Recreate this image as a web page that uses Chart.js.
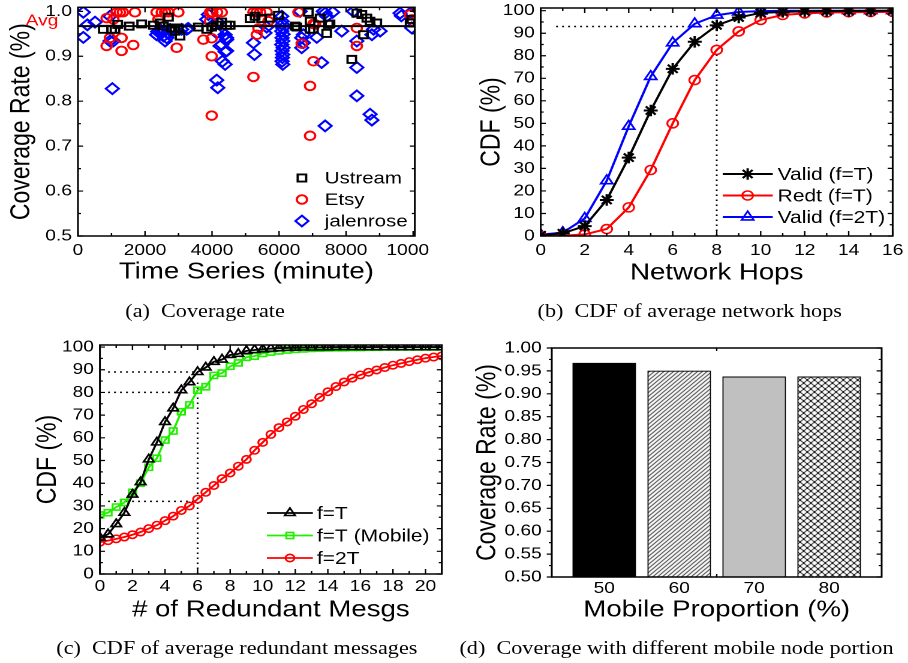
<!DOCTYPE html>
<html><head><meta charset="utf-8">
<title>Coverage and CDF charts</title>
<script src="https://cdn.jsdelivr.net/npm/chart.js@4.4.1/dist/chart.umd.min.js"></script>
<style>
html,body{margin:0;padding:0;background:#fff;}
body{width:908px;height:663px;overflow:hidden;position:relative;}
#fig{position:absolute;left:0;top:0;width:757px;height:663px;transform:scaleX(1.1995);transform-origin:0 0;}
#fig canvas{position:absolute;}
.cap{position:absolute;width:420px;text-align:center;font-family:"Liberation Serif","Times New Roman",serif;font-size:18.5px;line-height:22px;color:#000;white-space:nowrap;}
</style></head>
<body>
<div id="fig">
<canvas id="ca" width="358" height="300" style="left:0;top:0"></canvas>
<canvas id="cb" width="372" height="300" style="left:385px;top:0"></canvas>
<canvas id="cc" width="378" height="343" style="left:0;top:320px"></canvas>
<canvas id="cd" width="372" height="343" style="left:385px;top:320px"></canvas>
<div class="cap" style="left:-39px;top:300px">(a)&nbsp; Coverage rate</div>
<div class="cap" style="left:365px;top:300px">(b)&nbsp; CDF of average network hops</div>
<div class="cap" style="left:-12.5px;top:637px">(c)&nbsp; CDF of average redundant messages</div>
<div class="cap" style="left:354px;top:637px">(d)&nbsp; Coverage with different mobile node portion</div>
</div>
<script>
// ---------------- DATA ----------------
// (a) Coverage rate over time
const timeTicks = [0,2000,4000,6000,8000,10000];
const timeTickLabels = ['0','2000','4000','6000','8000','10000'];
const timeMinor = [1000,3000,5000,7000,9000];
const rateTicks = [0.5,0.6,0.7,0.8,0.9,1.0];
const rateTickLabels = ['0.5','0.6','0.7','0.8','0.9','1.0'];
const rateMinor = [0.55,0.65,0.75,0.85,0.95];
const avgCoverage = 0.967;
const avgSpan = [0,10050];
const ustreamTime = [755,1005,1105,1185,1530,1900,2250,2450,2550,2700,2800,2895,2995,3045,3590,3840,3990,4140,4290,4435,4540,5135,5285,5480,5730,5980,6480,6530,6875,6925,6925,7025,7225,7420,7470,7520,8170,8320,8470,8520,8620,8715,8915,9910,9960];
const ustreamRate = [0.96,0.96,0.96,0.971,0.967,0.972,0.969,0.974,0.967,0.987,0.963,0.956,0.963,0.945,0.965,0.96,0.965,0.969,0.976,0.969,0.969,0.984,0.989,0.984,0.985,0.991,0.967,0.965,0.998,0.978,0.96,0.96,0.985,0.951,0.971,0.972,0.893,0.996,0.993,0.948,0.985,0.978,0.974,0.974,0.982];
const etsyTime = [855,855,955,1055,1155,1250,1300,1300,1340,1650,1700,2345,2400,2500,2600,2700,2945,2995,3740,3940,3940,3990,3990,3990,4010,4150,4290,5235,5235,5335,5335,5385,5435,5630,5680,6580,6675,6925,6925,7025,7025,7075,8320,8320,9910,9960];
const etsyRate = [0.985,0.923,0.941,0.982,0.998,0.998,0.941,0.912,0.998,0.925,0.998,0.998,0.982,0.998,0.998,0.998,0.919,0.998,0.937,0.998,0.978,0.94,0.90,0.768,0.998,0.998,0.998,0.854,0.998,0.998,0.948,0.962,0.998,0.998,0.978,0.998,0.928,0.723,0.834,0.889,0.972,0.971,0.963,0.923,0.993,0.982];
const jalenTime = [160,160,280,510,955,955,1025,1055,2345,2380,2450,2500,2550,2600,2650,2700,2750,2800,3095,3245,3290,3840,3890,4140,4140,4170,4190,4240,4290,4310,4390,4390,4390,4435,4435,4435,5235,5265,5580,5630,6080,6090,6100,6110,6080,6120,6090,6110,6080,6120,6090,6110,6100,6090,6110,6630,6675,6675,6725,6725,7125,7270,7320,7375,7375,7420,7600,7870,8220,8320,8320,8320,8715,8770,8770,8820,9015,9610,9650,9910,9960];
const jalenRate = [0.998,0.942,0.97,0.976,0.989,0.934,0.828,0.934,0.948,0.955,0.96,0.952,0.945,0.934,0.941,0.95,0.96,0.955,0.96,0.96,0.962,0.982,0.993,0.952,0.847,0.83,0.975,0.923,0.926,0.889,0.948,0.91,0.882,0.937,0.941,0.912,0.93,0.904,0.952,0.965,0.989,0.978,0.971,0.963,0.956,0.949,0.941,0.934,0.926,0.919,0.912,0.904,0.897,0.889,0.882,1.0,0.941,0.919,0.948,0.93,0.942,0.886,1.0,0.996,0.745,0.989,0.998,0.956,1.0,0.934,0.875,0.812,0.771,0.758,0.948,0.96,0.956,0.996,0.99,0.996,0.963];

// (b) CDF of network hops
const hops = [0,1,2,3,4,5,6,7,8,9,10,11,12,13,14,15,16];
const cdfValidT = [0.3,1.2,4.4,16,34.8,55.7,74.2,86.2,93.5,97,99,99.5,99.7,99.8,99.9,99.9,100];
const cdfRedtT = [0,0.1,0.7,3.1,12.7,29.3,50,69.2,82.6,90.8,95.9,98.1,98.8,99.2,99.3,99.4,99.5];
const cdfValid2T = [0.6,1.5,7.8,24.5,48.7,70.8,85.7,94.2,98,99.4,99.8,100,100,100,100,100,100];
const hopTicks = [0,2,4,6,8,10,12,14,16];
const hopTickLabels = ['0','2','4','6','8','10','12','14','16'];
const hopMinor = [1,3,5,7,9,11,13,15];
const pctTicks = [0,10,20,30,40,50,60,70,80,90,100];
const pctTickLabels = ['0','10','20','30','40','50','60','70','80','90','100'];
const pctMinor = [5,15,25,35,45,55,65,75,85,95];
const hopRefX = 8, hopRefY = 93, hopRefStart = 0.7;

// (c) CDF of redundant messages
const redundantMsgs = [0,0.5,1,1.5,2,2.5,3,3.5,4,4.5,5,5.5,6,6.5,7,7.5,8,8.5,9,9.5,10,10.5,11,11.5,12,12.5,13,13.5,14,14.5,15,15.5,16,16.5,17,17.5,18,18.5,19,19.5,20,20.5,21];
const cdfFT = [16,17.5,22,27,35,40.5,50.5,58,67,73,81,84.5,89,91,93.5,94.5,96.5,97,98.3,98.7,99,99.3,99.5,99.6,99.7,99.8,99.8,99.9,99.9,100,100,100,100,100,100,100,100,100,100,100,100,100,100];
const cdfFTMobile = [26,27,29.5,31.5,36,40,47,51,59,63,71.5,74.5,81,82.5,87.5,88.5,91.5,93,95.5,96,97.2,97.8,98.3,98.7,99,99.2,99.4,99.5,99.6,99.7,99.7,99.8,99.8,99.9,99.9,100,100,100,100,100,100,100,100];
const cdfF2T = [14,14.7,15.5,16.3,17.3,18.5,20,21.5,23.5,25.5,28,30,33,36,39,42,44.5,47.5,50.5,54.5,58,61.5,64.5,67,69.5,72.5,75,77.8,80.3,82.6,84.6,86.3,87.7,88.9,89.9,91,92,92.8,93.6,94.4,95.1,95.6,96.1];
const msgTicks = [0,2,4,6,8,10,12,14,16,18,20];
const msgTickLabels = ['0','2','4','6','8','10','12','14','16','18','20'];
const msgMinor = [1,3,5,7,9,11,13,15,17,19,21];
const msgRefX = 6, msgRefTop = 86, msgRefStart = 0.5;
const msgRefLevels = [89, 80, 32];
const msgRefEnds = [5.8, 5.0, 5.8];

// (d) Coverage vs mobile proportion
const mobileProportion = [50,60,70,80];
const mobileTickLabels = ['50','60','70','80'];
const mobileCoverage = [0.967,0.950,0.937,0.937];
const covTicks = [0.50,0.55,0.60,0.65,0.70,0.75,0.80,0.85,0.90,0.95,1.00];
const covTickLabels = ['0.50','0.55','0.60','0.65','0.70','0.75','0.80','0.85','0.90','0.95','1.00'];
const covMinor = [0.525,0.575,0.625,0.675,0.725,0.775,0.825,0.875,0.925,0.975];
const mobileMinor = [65];

// ---------------- HELPERS ----------------
const SANS = "'Liberation Sans', Arial, Helvetica, sans-serif";
Chart.defaults.font.family = SANS;
Chart.defaults.color = '#000';

function pts(xs, ys){ return xs.map((x,i)=>({x:x, y:ys[i]})); }
function fixY(w){ return s=>{ s.width=w; s.paddingTop=0; s.paddingBottom=0; }; }
function fixX(h){ return s=>{ s.height=h; s.paddingLeft=0; s.paddingRight=0; }; }
function useTicks(v){ return s=>{ s.ticks = v.map(t=>({value:t})); }; }
function axis(o){
  return {
    type:'linear', min:o.min, max:o.max, offset:false,
    afterBuildTicks: useTicks(o.ticks),
    afterFit: o.fit,
    grid:{display:false, drawTicks:false, tickLength:0},
    border:{display:false},
    ticks:{autoSkip:false, maxRotation:0, minRotation:0, padding:o.pad, font:{size:16}, color:'#000',
      callback:(v,i)=>o.labels[i]},
    title:{display:true, text:o.title, font:{size:23}, padding:0, color:'#000'}
  };
}
function drawMarker(ctx, style, r, color, bw, x, y){
  ctx.save();
  ctx.strokeStyle = color; ctx.fillStyle = 'rgba(0,0,0,0)'; ctx.lineWidth = bw;
  Chart.helpers.drawPoint(ctx, {pointStyle:style, radius:r, rotation:0, borderWidth:bw}, x, y);
  ctx.restore();
}
const boxTicks = {
  id:'boxTicks',
  afterDatasetsDraw(chart, args, o){
    const ctx = chart.ctx, a = chart.chartArea, xs = chart.scales.x, ys = chart.scales.y;
    ctx.save();
    ctx.strokeStyle = '#000';
    ctx.lineWidth = 1.2;
    ctx.beginPath();
    const vt = (list, len) => (list||[]).forEach(v=>{
      const p = xs.getPixelForValue(v);
      ctx.moveTo(p, a.bottom); ctx.lineTo(p, a.bottom - len);
      ctx.moveTo(p, a.top); ctx.lineTo(p, a.top + len);
    });
    const ht = (list, len) => (list||[]).forEach(v=>{
      const p = ys.getPixelForValue(v);
      const d = o.outLeft ? -1 : 1;
      ctx.moveTo(a.left, p); ctx.lineTo(a.left + d*len, p);
      ctx.moveTo(a.right, p); ctx.lineTo(a.right - len, p);
    });
    vt(o.xMajor, 5); vt(o.xMinor, 3);
    ht(o.yMajor, 4.2); ht(o.yMinor, 2.5);
    ctx.stroke();
    ctx.lineWidth = 1.5;
    ctx.strokeRect(a.left, a.top, a.right - a.left, a.bottom - a.top);
    ctx.restore();
  }
};
const insideLegend = {
  id:'insideLegend',
  afterDraw(chart, args, o){
    if (!o.indices) return;
    const ctx = chart.ctx;
    ctx.save();
    ctx.font = o.font; ctx.textBaseline = 'middle'; ctx.textAlign = 'left';
    o.indices.forEach((di, k)=>{
      const ds = chart.data.datasets[di];
      const y = o.y + k*o.dy;
      if (o.line) {
        ctx.strokeStyle = ds.borderColor; ctx.lineWidth = ds.borderWidth;
        ctx.beginPath(); ctx.moveTo(o.line[0], y); ctx.lineTo(o.line[1], y); ctx.stroke();
      }
      drawMarker(ctx, ds.pointStyle, ds.pointRadius, ds.borderColor, ds.pointBorderWidth, o.markerX, y);
      ctx.fillStyle = '#000';
      ctx.fillText(ds.label, o.textX, y + 1);
    });
    ctx.restore();
  }
};
const avgTag = {
  id:'avgTag',
  afterDraw(chart, args, o){
    if (!o.text) return;
    const ctx = chart.ctx;
    ctx.save();
    ctx.font = '16px ' + SANS; ctx.fillStyle = '#ff0000';
    ctx.textAlign = 'center'; ctx.textBaseline = 'middle';
    ctx.fillText(o.text, o.x, chart.scales.y.getPixelForValue(o.value) - 5);
    ctx.restore();
  }
};
function basePlugins(extra){
  return Object.assign({legend:{display:false}, tooltip:{enabled:false}}, extra);
}
function pattern(kind){
  const s = kind === 'diag' ? 4 : 6;
  const c = document.createElement('canvas');
  c.width = s; c.height = s;
  const g = c.getContext('2d');
  g.fillStyle = '#fff'; g.fillRect(0,0,s,s);
  g.strokeStyle = '#000'; g.lineWidth = 1;
  g.beginPath();
  g.moveTo(-1, s+1); g.lineTo(s+1, -1);
  g.moveTo(-1, 1); g.lineTo(1, -1);
  g.moveTo(s-1, s+1); g.lineTo(s+1, s-1);
  if (kind === 'cross') {
    g.moveTo(-1, -1); g.lineTo(s+1, s+1);
    g.moveTo(-1, s-1); g.lineTo(1, s+1);
    g.moveTo(s-1, -1); g.lineTo(s+1, 1);
  }
  g.stroke();
  return g.createPattern(c, 'repeat');
}
const common = {responsive:false, devicePixelRatio:2, animation:false, events:[]};
const hollow = 'rgba(0,0,0,0)';

// ---------------- (a) ----------------
new Chart(document.getElementById('ca'), {
  type:'scatter',
  data:{datasets:[
    {label:'Avg', data:pts(avgSpan,[avgCoverage,avgCoverage]), showLine:true, borderColor:'#000', borderWidth:2, pointRadius:0},
    {label:'Ustream', data:pts(ustreamTime, ustreamRate), pointStyle:'rect', pointRadius:5, pointBorderWidth:1.9, borderColor:'#000', backgroundColor:hollow},
    {label:'Etsy', data:pts(etsyTime, etsyRate), pointStyle:'circle', pointRadius:4.3, pointBorderWidth:1.9, borderColor:'#ff0000', backgroundColor:hollow},
    {label:'jalenrose', data:pts(jalenTime, jalenRate), pointStyle:'rectRot', pointRadius:5.4, pointBorderWidth:1.9, borderColor:'#0000ff', backgroundColor:hollow}
  ]},
  options:Object.assign({}, common, {
    layout:{padding:{left:4.5, right:12.2, top:6, bottom:14.2}},
    plugins:basePlugins({
      boxTicks:{xMajor:timeTicks, xMinor:timeMinor, yMajor:rateTicks, yMinor:rateMinor},
      insideLegend:{indices:[1,2,3], markerX:251.7, textX:270.8, y:178, dy:21.5, font:'17px '+SANS},
      avgTag:{text:'Avg', value:avgCoverage, x:35}
    }),
    scales:{
      x:axis({min:0, max:10050, ticks:timeTicks, labels:timeTickLabels, fit:fixX(49.8), pad:5, title:'Time Series (minute)'}),
      y:axis({min:0.5, max:1.009, ticks:rateTicks, labels:rateTickLabels, fit:fixY(60.5), pad:5, title:'Coverage Rate (%)'})
    }
  }),
  plugins:[boxTicks, insideLegend, avgTag]
});

// ---------------- (b) ----------------
new Chart(document.getElementById('cb'), {
  type:'line',
  data:{datasets:[
    {label:'Valid (f=T)', data:pts(hops, cdfValidT), borderColor:'#000', borderWidth:2, pointStyle:'star', pointRadius:5.8, pointBorderWidth:2, backgroundColor:hollow, tension:0},
    {label:'Redt (f=T)', data:pts(hops, cdfRedtT), borderColor:'#ff0000', borderWidth:2, pointStyle:'circle', pointRadius:4.5, pointBorderWidth:1.6, backgroundColor:hollow, tension:0},
    {label:'Valid (f=2T)', data:pts(hops, cdfValid2T), borderColor:'#0000ff', borderWidth:2, pointStyle:'triangle', pointRadius:5.8, pointBorderWidth:1.6, backgroundColor:hollow, tension:0},
    {label:'ref-h', data:pts([hopRefStart, hopRefX],[hopRefY, hopRefY]), borderColor:'#000', borderWidth:1.5, borderDash:[1.5,3.5], pointRadius:0},
    {label:'ref-v', data:pts([hopRefX, hopRefX],[0, hopRefY]), borderColor:'#000', borderWidth:1.5, borderDash:[1.5,3.5], pointRadius:0}
  ]},
  options:Object.assign({}, common, {
    layout:{padding:{left:11.2, right:12.8, top:8, bottom:13.2}},
    plugins:basePlugins({
      boxTicks:{xMajor:hopTicks, xMinor:hopMinor, yMajor:pctTicks, yMinor:pctMinor},
      insideLegend:{indices:[0,1,2], line:[217.5,259.2], markerX:238.3, textX:263.3, y:174, dy:21.5, font:'17.5px '+SANS}
    }),
    scales:{
      x:axis({min:0, max:16, ticks:hopTicks, labels:hopTickLabels, fit:fixX(50.8), pad:5, title:'Network Hops'}),
      y:axis({min:0, max:101.2, ticks:pctTicks, labels:pctTickLabels, fit:fixY(54.6), pad:5, title:'CDF (%)'})
    }
  }),
  plugins:[boxTicks, insideLegend]
});

// ---------------- (c) ----------------
const msgRefSets = msgRefLevels.map((lv,i)=>({label:'ref'+i, data:pts([msgRefStart, msgRefEnds[i]],[lv,lv]), borderColor:'#000', borderWidth:1.5, borderDash:[1.5,3.5], pointRadius:0}));
new Chart(document.getElementById('cc'), {
  type:'line',
  data:{datasets:[
    {label:'f=T', data:pts(redundantMsgs, cdfFT), borderColor:'#000', borderWidth:1.8, pointStyle:'triangle', pointRadius:5, pointBorderWidth:1.6, backgroundColor:hollow, tension:0},
    {label:'f=T (Mobile)', data:pts(redundantMsgs, cdfFTMobile), borderColor:'#22ee00', borderWidth:1.8, pointStyle:'rect', pointRadius:4.3, pointBorderWidth:1.6, backgroundColor:hollow, tension:0},
    {label:'f=2T', data:pts(redundantMsgs, cdfF2T), borderColor:'#ff0000', borderWidth:1.8, pointStyle:'circle', pointRadius:3.7, pointBorderWidth:1.6, backgroundColor:hollow, tension:0},
    ...msgRefSets,
    {label:'ref-v', data:pts([msgRefX, msgRefX],[0, msgRefTop]), borderColor:'#000', borderWidth:1.5, borderDash:[1.5,3.5], pointRadius:0}
  ]},
  options:Object.assign({}, common, {
    layout:{padding:{left:26.2, right:9.7, top:25, bottom:39.2}},
    plugins:basePlugins({
      boxTicks:{xMajor:msgTicks, xMinor:msgMinor, yMajor:pctTicks, yMinor:pctMinor},
      insideLegend:{indices:[0,1,2], line:[222.5,260.8], markerX:241.7, textX:264.2, y:193, dy:22.5, font:'17.5px '+SANS}
    }),
    scales:{
      x:axis({min:0, max:21, ticks:msgTicks, labels:msgTickLabels, fit:fixX(49.8), pad:3, title:'# of Redundant Mesgs'}),
      y:axis({min:0, max:100.9, ticks:pctTicks, labels:pctTickLabels, fit:fixY(57.1), pad:5, title:'CDF (%)'})
    }
  }),
  plugins:[boxTicks, insideLegend]
});

// ---------------- (d) ----------------
new Chart(document.getElementById('cd'), {
  type:'bar',
  data:{datasets:[
    {label:'Coverage', data:pts(mobileProportion, mobileCoverage),
     backgroundColor:['#000000', pattern('diag'), '#c0c0c0', pattern('cross')],
     borderColor:'#000', borderWidth:1, barThickness:52.5, grouped:false}
  ]},
  options:Object.assign({}, common, {
    layout:{padding:{left:7.9, right:22, top:28, bottom:39.2}},
    plugins:basePlugins({
      boxTicks:{xMinor:mobileMinor, yMajor:covTicks, yMinor:covMinor, outLeft:true}
    }),
    scales:{
      x:axis({min:43, max:87, ticks:mobileProportion, labels:mobileTickLabels, fit:fixX(46.8), pad:2, title:'Mobile Proportion (%)'}),
      y:Object.assign(axis({min:0.5, max:1.0, ticks:covTicks, labels:covTickLabels, fit:fixY(67.1), pad:8.3, title:'Coverage Rate (%)'}), {beginAtZero:false})
    }
  }),
  plugins:[boxTicks]
});
</script>
</body></html>
